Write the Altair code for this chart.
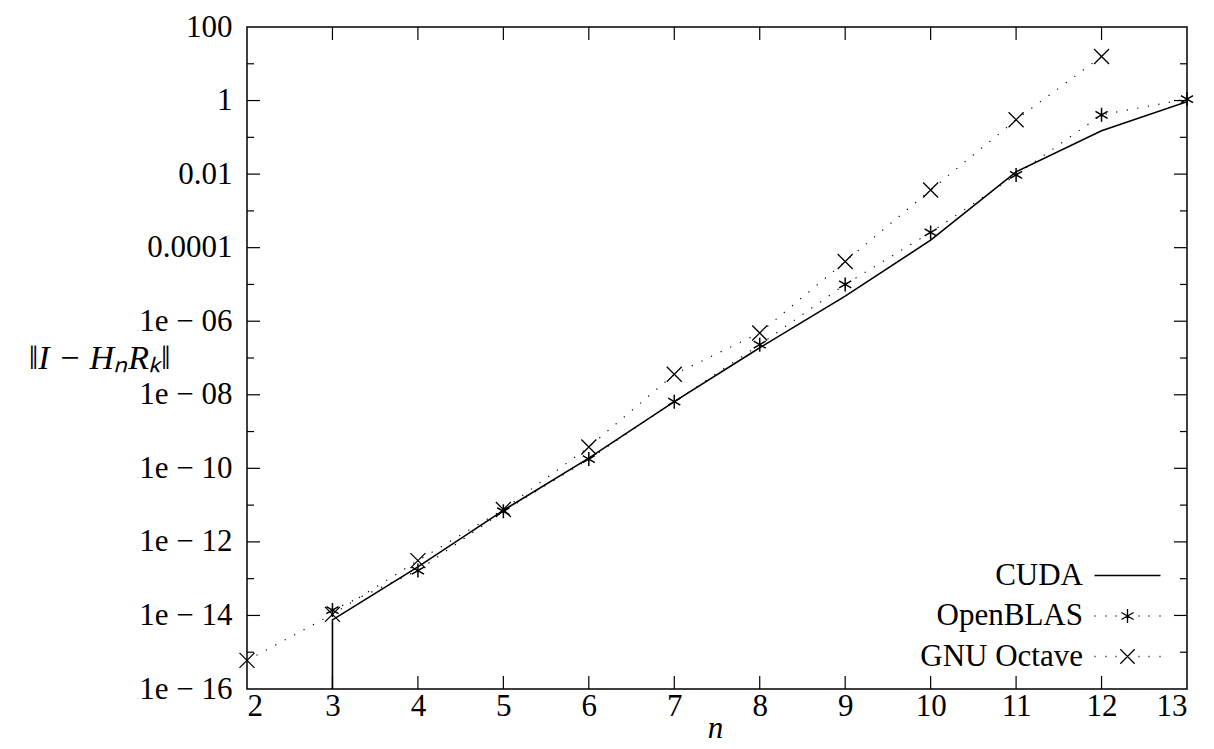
import altair as alt
import pandas as pd

# ---- data ----
series_names = ["CUDA", "OpenBLAS", "GNU Octave"]
symbol_keys = ["key-solid", "key-star", "key-cross"]

cuda_n = [3, 3, 4, 5, 6, 7, 8, 9, 10, 11, 12, 13]
cuda_err = [1e-16, 7.6e-15, 2.1e-13, 7.2e-12, 1.9e-10, 6.5e-09, 1.9e-07,
            4.8e-06, 1.6e-04, 1.15e-02, 1.5e-01, 0.93]

openblas_n = [3, 4, 5, 6, 7, 8, 9, 10, 11, 12, 13]
openblas_err = [1.4e-14, 1.66e-13, 6.8e-12, 1.78e-10, 6.5e-09, 2.3e-07,
                1.0e-05, 2.6e-04, 9.5e-03, 0.41, 1.1]

octave_n = [2, 3, 4, 5, 6, 7, 8, 9, 10, 11, 12]
octave_err = [6.0e-16, 1.07e-14, 3.1e-13, 7.6e-12, 3.8e-10, 3.6e-08, 4.8e-07,
              4.2e-05, 3.7e-03, 0.30, 15.8]

x_ticks = list(range(2, 14))
y_major = [1e-16, 1e-14, 1e-12, 1e-10, 1e-08, 1e-06, 1e-04, 1e-02, 1, 100]
y_major_labels = ["1e − 16", "1e − 14", "1e − 12", "1e − 10", "1e − 08",
                  "1e − 06", "0.0001", "0.01", "1", "100"]
y_minor = [1e-15, 1e-13, 1e-11, 1e-09, 1e-07, 1e-05, 1e-03, 1e-01, 10]

# ---- tables ----
def frame(name, ns, errs):
    return pd.DataFrame({"series": name, "n": ns, "err": errs,
                         "idx": list(range(len(ns)))})

cuda_df = frame("CUDA", cuda_n, cuda_err)
blas_df = frame("OpenBLAS", openblas_n, openblas_err)
oct_df = frame("GNU Octave", octave_n, octave_err)

xt_df = pd.DataFrame({"n": x_ticks[1:-1]})
ymaj_df = pd.DataFrame({"err": y_major[1:-1]})
ymin_df = pd.DataFrame({"err": y_minor})
leg_df = pd.DataFrame({"series": series_names, "sym_key": symbol_keys})

W, H = 940, 662
FONT = "Liberation Serif"
FS = 31

xs = alt.Scale(domain=[2, 13], nice=False, zero=False)
ys = alt.Scale(type="log", domain=[1e-16, 100], nice=False)

label_arr = "[" + ",".join("'%s'" % s for s in y_major_labels) + "]"
y_label_expr = label_arr + "[round(log(datum.value)/LN10/2) + 8]"

x_axis = alt.Axis(values=x_ticks, title="n", titleFontStyle="italic",
                  titleFontWeight="normal", titleX=W / 2 - 2, titleY=48,
                  titleBaseline="alphabetic", labelPadding=2)
y_axis = alt.Axis(values=y_major, labelExpr=y_label_expr,
                  title="‖I − HₙRₖ‖", titleAngle=0, titleAlign="right",
                  titleBaseline="middle", titleX=-77, titleY=H / 2,
                  titleFontStyle="italic", titleFontWeight="normal",
                  titleFontSize=34, labelPadding=15)

X = alt.X("n:Q", scale=xs, axis=x_axis)
Y = alt.Y("err:Q", scale=ys, axis=y_axis)

# ---- inward ticks on all four sides ----
def rule():
    return dict(color="black", strokeWidth=1.2)

xt_bottom = alt.Chart(xt_df).mark_rule(**rule()).encode(
    x=X, y=alt.value(H), y2=alt.value(H - 13))
xt_top = alt.Chart(xt_df).mark_rule(**rule()).encode(
    x=X, y=alt.value(0), y2=alt.value(13))
ymaj_left = alt.Chart(ymaj_df).mark_rule(**rule()).encode(
    y=Y, x=alt.value(0), x2=alt.value(13))
ymaj_right = alt.Chart(ymaj_df).mark_rule(**rule()).encode(
    y=Y, x=alt.value(W), x2=alt.value(W - 13))
ymin_left = alt.Chart(ymin_df).mark_rule(**rule()).encode(
    y=Y, x=alt.value(0), x2=alt.value(7))
ymin_right = alt.Chart(ymin_df).mark_rule(**rule()).encode(
    y=Y, x=alt.value(W), x2=alt.value(W - 7))

# ---- series ----
order = alt.Order("idx:Q")
cuda_line = alt.Chart(cuda_df).mark_line(color="black", strokeWidth=1.6, clip=True).encode(
    x=X, y=Y, order=order)
blas_line = alt.Chart(blas_df).mark_line(color="black", strokeWidth=1.2,
                                         strokeDash=[1.2, 9.5], clip=True).encode(
    x=X, y=Y, order=order)
oct_line = alt.Chart(oct_df).mark_line(color="black", strokeWidth=1.2,
                                       strokeDash=[1.2, 9.5], clip=True).encode(
    x=X, y=Y, order=order)

STAR = "M0,-1L0,1M-0.866,-0.5L0.866,0.5M-0.866,0.5L0.866,-0.5"
CROSS = "M-1,-1L1,1M-1,1L1,-1"

blas_pts = alt.Chart(blas_df).mark_point(shape=STAR, size=196, filled=False,
                                         color="black", strokeWidth=1.5, opacity=1).encode(
    x=X, y=Y)
oct_pts = alt.Chart(oct_df).mark_point(shape=CROSS, size=225, filled=False,
                                       color="black", strokeWidth=1.3, opacity=1).encode(
    x=X, y=Y)

# ---- legend (gnuplot-style key: label, then sample to its right) ----
# symbol size 400 -> path unit = 10 px
DOTS = ("M-3.3,0L-3.2,0M-2.2,0L-2.1,0M-1.2,0L-1.1,0"
        "M1.1,0L1.2,0M2.1,0L2.2,0M3.2,0L3.3,0")
LEG_PATHS = [
    "M-3.3,0L3.3,0",
    DOTS + "M0,-0.7L0,0.7M-0.61,-0.35L0.61,0.35M-0.61,0.35L0.61,-0.35",
    DOTS + "M-0.72,-0.72L0.72,0.72M-0.72,0.72L0.72,-0.72",
]
SYM_SIZE = 400
ROWPAD = 8.5
LEG_Y = 533

common = dict(title=None, orient="none", legendY=LEG_Y,
              symbolSize=SYM_SIZE, labelAlign="right", labelBaseline="middle",
              labelOffset=0, labelFont=FONT, labelFontSize=FS,
              labelLimit=400, rowPadding=ROWPAD, padding=0)

legend_layer = alt.Chart(leg_df).mark_point(opacity=0, filled=False, color="black",
                                            size=SYM_SIZE).encode(
    shape=alt.Shape("sym_key:N",
                    scale=alt.Scale(domain=symbol_keys, range=LEG_PATHS),
                    sort=symbol_keys,
                    legend=alt.Legend(legendX=865, symbolStrokeWidth=1.3,
                                      symbolStrokeColor="black",
                                      symbolFillColor="transparent",
                                      symbolOpacity=1, labelExpr="' '",
                                      labelColor="transparent", **common)),
    color=alt.Color("series:N",
                    scale=alt.Scale(domain=series_names,
                                    range=["transparent"] * 3),
                    sort=series_names,
                    legend=alt.Legend(legendX=805, symbolType="circle",
                                      symbolOpacity=0,
                                      symbolStrokeColor="transparent",
                                      symbolFillColor="transparent",
                                      labelColor="black", **common)),
)

chart = alt.layer(
    xt_bottom, xt_top, ymaj_left, ymaj_right, ymin_left, ymin_right,
    cuda_line, blas_line, oct_line, blas_pts, oct_pts, legend_layer
).properties(
    width=W, height=H,
    autosize=alt.AutoSizeParams(type="none"),
    padding={"left": 239, "top": 19, "right": 19, "bottom": 58},
).configure_view(
    stroke="black", strokeWidth=1.5
).configure_axis(
    ticks=False, domain=False, grid=False,
    labelFont=FONT, labelFontSize=FS, labelColor="black",
    titleFont=FONT, titleFontSize=FS, titleColor="black",
)

chart.save("out.html", embed_options={"renderer": "svg", "actions": False})
